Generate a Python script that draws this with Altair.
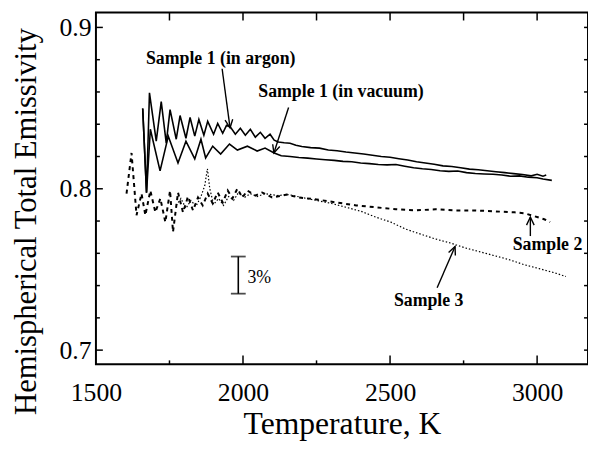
import altair as alt
import pandas as pd

# ---------------- data ----------------
argon_T = [1659, 1672, 1682, 1705, 1722, 1739, 1752, 1773, 1786, 1806, 1820, 1836, 1850,
           1867, 1880, 1900, 1914, 1931, 1944, 1958, 1974, 1991, 2008, 2025, 2042, 2059,
           2075, 2092, 2106,
           2120, 2140, 2160, 2180, 2200, 2230, 2260, 2290, 2320, 2350, 2380, 2410, 2440,
           2470, 2500, 2530, 2560, 2590, 2620, 2650, 2680, 2710, 2740, 2770, 2800, 2830,
           2860, 2890, 2920, 2950, 2980, 3000, 3020, 3031]
argon_e = [0.8497, 0.7976, 0.8595, 0.8295, 0.8540, 0.8283, 0.8491, 0.8307, 0.8454, 0.8313,
           0.8442, 0.8326, 0.8430, 0.8332, 0.8418, 0.8338, 0.8405, 0.8344, 0.8393, 0.8381,
           0.8338, 0.8375, 0.8332, 0.8369, 0.8320, 0.8350, 0.8313, 0.8338, 0.8301,
           0.8290, 0.8285, 0.8282, 0.8270, 0.8262, 0.8255, 0.8252, 0.8240, 0.8236, 0.8228,
           0.8222, 0.8215, 0.8208, 0.8200, 0.8195, 0.8186, 0.8178, 0.8168, 0.8160, 0.8152,
           0.8142, 0.8138, 0.8130, 0.8122, 0.8118, 0.8112, 0.8106, 0.8100, 0.8094, 0.8088,
           0.8080, 0.8090, 0.8078, 0.8085]

vacuum_T = [1659, 1672, 1685, 1718, 1746, 1779, 1806, 1836, 1857, 1873, 1897, 1924, 1954,
            1981, 2015, 2048, 2075, 2106,
            2130, 2160, 2190, 2220, 2250, 2280, 2310, 2340, 2370, 2400, 2430, 2460, 2490,
            2520, 2550, 2580, 2610, 2640, 2670, 2700, 2730, 2760, 2790, 2820, 2850, 2880,
            2910, 2940, 2970, 3000, 3020, 3050]
vacuum_e = [0.8497, 0.7976, 0.8369, 0.8111, 0.8326, 0.8160, 0.8295, 0.8185, 0.8307, 0.8191,
            0.8264, 0.8215, 0.8277, 0.8240, 0.8264, 0.8234, 0.8252, 0.8222,
            0.8205, 0.8200, 0.8194, 0.8190, 0.8185, 0.8180, 0.8176, 0.8170, 0.8168, 0.8160,
            0.8156, 0.8150, 0.8148, 0.8150, 0.8140, 0.8130, 0.8124, 0.8120, 0.8112, 0.8108,
            0.8110, 0.8100, 0.8095, 0.8092, 0.8090, 0.8085, 0.8078, 0.8080, 0.8072, 0.8068,
            0.8060, 0.8052]

s2_T = [1604, 1621, 1638, 1655, 1668, 1685, 1702, 1719, 1736, 1752, 1762, 1779, 1796, 1813,
        1830, 1847, 1863, 1880, 1897, 1914, 1931, 1948, 1964, 1981, 1998, 2015, 2042, 2065,
        2099, 2149, 2190, 2250, 2318, 2385, 2452, 2520, 2587, 2654, 2721, 2789, 2856, 2923,
        2957, 2991, 3024, 3044]
s2_e = [0.7970, 0.8222, 0.7836, 0.7970, 0.7836, 0.7989, 0.7854, 0.7940, 0.7793, 0.7989,
        0.7732, 0.7977, 0.7854, 0.7952, 0.7866, 0.7946, 0.7897, 0.7970, 0.7909, 0.7977,
        0.7915, 0.7989, 0.7940, 0.8001, 0.7946, 0.7989, 0.7958, 0.7977, 0.7946, 0.7964,
        0.7946, 0.7934, 0.7915, 0.7897, 0.7885, 0.7873, 0.7866, 0.7873, 0.7866, 0.7866,
        0.7860, 0.7854, 0.7848, 0.7830, 0.7811, 0.7793]

s3_T = [1773, 1789, 1806, 1823, 1840, 1857, 1870, 1879, 1887, 1900, 1917, 1934, 1951, 1968,
        1985, 2005, 2025, 2048, 2075, 2116, 2156, 2200, 2250, 2301, 2351, 2402, 2452, 2503,
        2553, 2604, 2654, 2705, 2755, 2806, 2856, 2906, 2957, 3007, 3058, 3098]
s3_e = [0.7897, 0.7940, 0.7879, 0.7928, 0.7891, 0.7952, 0.8020, 0.8124, 0.8001, 0.7903,
        0.7940, 0.7897, 0.7952, 0.7928, 0.7977, 0.7946, 0.7970, 0.7952, 0.7970, 0.7958,
        0.7964, 0.7946, 0.7928, 0.7909, 0.7885, 0.7860, 0.7824, 0.7793, 0.7750, 0.7719,
        0.7689, 0.7664, 0.7634, 0.7609, 0.7585, 0.7560, 0.7529, 0.7505, 0.7480, 0.7456]

# annotation arrows: shaft (tail -> tip) and open head (wing, tip, wing)
arrow_names = ["argon", "vacuum", "s2", "s3"]
arrow_shaft_T = [[1929, 1956], [2155, 2105], [2977, 2977], [2660, 2721]]
arrow_shaft_e = [[0.8744, 0.8378], [0.8504, 0.8222], [0.7707, 0.7825], [0.7387, 0.7642]]
arrow_head_T = [[1939, 1956, 1965], [2101, 2105, 2125], [2964, 2977, 2990], [2699, 2721, 2722]]
arrow_head_e = [[0.8425, 0.8378, 0.8431], [0.8276, 0.8222, 0.8262],
                [0.7775, 0.7825, 0.7775], [0.7605, 0.7642, 0.7586]]

label_text = ["Sample 1 (in argon)", "Sample 1 (in vacuum)", "Sample 2", "Sample 3"]
label_T = [1670, 2052, 2917, 2513]
label_e = [0.8776, 0.8568, 0.7621, 0.7272]

bar_T = [1984]
bar_lo = [0.735]
bar_hi = [0.758]
bar_text = ["3%"]
bar_text_T = [2015]
bar_text_e = [0.7419]

x_labels = [1500, 2000, 2500, 3000]
x_major = [2000, 2500, 3000]
x_minor = [1750, 2250, 2750]
y_labels = [0.7, 0.8, 0.9]
y_minor = [0.72, 0.74, 0.76, 0.78, 0.82, 0.84, 0.86, 0.88]

# ---------------- chart ----------------
W, H = 498, 356
FONT = "Liberation Serif"
xs = alt.Scale(domain=[1500, 3173], nice=False, zero=False)
ys = alt.Scale(domain=[0.6912, 0.9092], nice=False, zero=False)

x_axis = alt.Axis(values=x_labels, format="d", title="Temperature, K",
                  titleFontSize=32, titleBaseline="alphabetic", titleY=70)
y_axis = alt.Axis(values=y_labels, format=".1f", title="Hemispherical Total Emissivity",
                  titleFontSize=31, titleBaseline="alphabetic", titleX=-61, titleY=211)


def X(field):
    return alt.X(field, scale=xs, axis=x_axis)


def Y(field):
    return alt.Y(field, scale=ys, axis=y_axis)


def series_df(T, e, name):
    return pd.DataFrame({"T": T, "e": e, "s": name, "i": range(len(T))})


solid_df = pd.concat([series_df(argon_T, argon_e, "argon"),
                      series_df(vacuum_T, vacuum_e, "vacuum")])
s2_df = series_df(s2_T, s2_e, "s2")
s3_df = series_df(s3_T, s3_e, "s3")

solid = alt.Chart(solid_df).mark_line(color="black", strokeWidth=1.6).encode(
    x=X("T:Q"), y=Y("e:Q"), detail="s:N", order="i:Q")
dashed = alt.Chart(s2_df).mark_line(color="black", strokeWidth=2, strokeDash=[4, 4]).encode(
    x=X("T:Q"), y=Y("e:Q"), order="i:Q")
dotted = alt.Chart(s3_df).mark_line(color="black", strokeWidth=1.2, strokeDash=[1.5, 2]).encode(
    x=X("T:Q"), y=Y("e:Q"), order="i:Q")

arrow_rows = []
for n, sT, se, hT, he in zip(arrow_names, arrow_shaft_T, arrow_shaft_e, arrow_head_T, arrow_head_e):
    for k, (t, v) in enumerate(zip(sT, se)):
        arrow_rows.append({"p": n + "_shaft", "T": t, "e": v, "i": k})
    for k, (t, v) in enumerate(zip(hT, he)):
        arrow_rows.append({"p": n + "_head", "T": t, "e": v, "i": k})
arrows = alt.Chart(pd.DataFrame(arrow_rows)).mark_line(color="black", strokeWidth=1.4).encode(
    x=X("T:Q"), y=Y("e:Q"), detail="p:N", order="i:Q")

labels = alt.Chart(pd.DataFrame({"t": label_text, "T": label_T, "e": label_e})).mark_text(
    font=FONT, fontSize=18, fontWeight="bold", align="left", baseline="alphabetic", color="black"
).encode(x=X("T:Q"), y=Y("e:Q"), text="t:N")

bar_df = pd.DataFrame({"T": bar_T, "lo": bar_lo, "hi": bar_hi})
bar = alt.Chart(bar_df).mark_rule(color="black", strokeWidth=1.6).encode(
    x=X("T:Q"), y=Y("lo:Q"), y2="hi:Q")
cap_df = pd.DataFrame({"T": bar_T * 2, "e": bar_lo + bar_hi})
caps = alt.Chart(cap_df).mark_tick(color="black", orient="horizontal", size=15, thickness=1.8).encode(
    x=X("T:Q"), y=Y("e:Q"))
bar_lab = alt.Chart(pd.DataFrame({"t": bar_text, "T": bar_text_T, "e": bar_text_e})).mark_text(
    font=FONT, fontSize=18, align="left", baseline="alphabetic", color="black"
).encode(x=X("T:Q"), y=Y("e:Q"), text="t:N")


# inward frame ticks
def xticks(vals, y0, y1):
    return alt.Chart(pd.DataFrame({"T": vals})).mark_rule(color="black", strokeWidth=1.5).encode(
        x=X("T:Q"), y=alt.value(y0), y2=alt.value(y1))


def yticks(vals, x0, x1):
    return alt.Chart(pd.DataFrame({"e": vals})).mark_rule(color="black", strokeWidth=1.5).encode(
        y=Y("e:Q"), x=alt.value(x0), x2=alt.value(x1))


ticks = [
    xticks(x_major, H, H - 9), xticks(x_minor, H, H - 4),
    xticks(x_major + x_minor, 0, 8),
    yticks(y_labels, 0, 7), yticks(y_minor, 0, 4),
    yticks(y_labels + y_minor, W, W - 4),
]

chart = alt.layer(solid, dashed, dotted, arrows, labels, bar, caps, bar_lab, *ticks).properties(
    width=W, height=H,
    autosize=alt.AutoSizeParams(type="none"),
    padding={"left": 89, "top": 2, "right": 0, "bottom": 78},
    background="white",
).configure_view(
    stroke="black", strokeWidth=2
).configure_axis(
    labelFont=FONT, labelFontSize=26, labelColor="black", titleFont=FONT,
    titleColor="black", titleFontWeight="normal", domain=False, ticks=False,
    tickSize=0, grid=False, labelFlush=False, labelOverlap=False,
).configure_axisX(
    labelBaseline="alphabetic", labelPadding=37
).configure_axisY(
    labelPadding=5
)

chart.save("out.html", embed_options={"renderer": "svg", "actions": False})
